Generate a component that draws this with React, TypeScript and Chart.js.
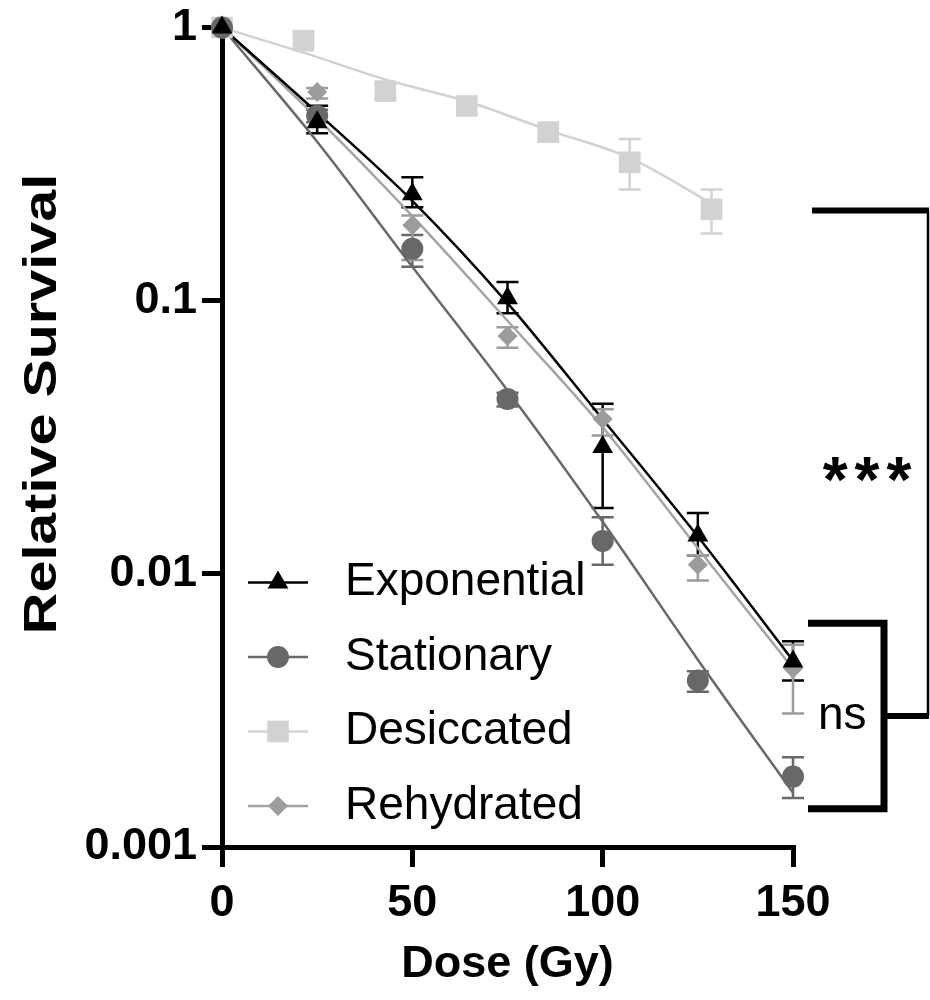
import React, { useEffect, useRef } from "react";
import { Chart, registerables } from "chart.js";

Chart.register(...registerables);

// ---------------- data ----------------
const doses = [0, 25, 50, 75, 100, 125, 150];
const desiccatedDoses = [0, 21.4, 42.9, 64.3, 85.7, 107.1, 128.6];

const exponentialMean = [1, 0.45, 0.245, 0.102, 0.0291, 0.0138, 0.00478];
const exponentialUpper = [1, 0.517, 0.283, 0.117, 0.0419, 0.0167, 0.00566];
const exponentialLower = [1, 0.41, 0.22, 0.09, 0.0174, 0.0117, 0.00407];
const exponentialFit = [1, 0.488, 0.232, 0.098, 0.0368, 0.0137, 0.00481];

const stationaryMean = [1, 0.475, 0.155, 0.0437, 0.0132, 0.00407, 0.00181];
const stationaryUpper = [1, 0.5, 0.174, 0.046, 0.0161, 0.0044, 0.00213];
const stationaryLower = [1, 0.45, 0.133, 0.041, 0.0108, 0.0037, 0.00151];
const stationaryFit = [1, 0.382, 0.133, 0.0469, 0.0155, 0.00485, 0.00158];

const desiccatedMean = [1, 0.895, 0.585, 0.516, 0.414, 0.321, 0.216];
const desiccatedUpper = [1, 0.93, 0.62, 0.55, 0.44, 0.391, 0.255];
const desiccatedLower = [1, 0.86, 0.55, 0.48, 0.39, 0.255, 0.176];
const desiccatedFit = [1, 0.809, 0.645, 0.537, 0.421, 0.333, 0.227];

const rehydratedMean = [1, 0.58, 0.189, 0.0742, 0.0369, 0.0108, 0.0045];
const rehydratedUpper = [1, 0.6, 0.205, 0.08, 0.04, 0.0117, 0.0055];
const rehydratedLower = [1, 0.55, 0.141, 0.0673, 0.0321, 0.00946, 0.00308];
const rehydratedFit = [1, 0.466, 0.204, 0.0844, 0.0344, 0.0124, 0.0045];

const xTicks = [0, 50, 100, 150];
const yTicks = [1, 0.1, 0.01, 0.001];
const yTickLabels = ["1", "0.1", "0.01", "0.001"];

// significance brackets (in data units of the y axis)
const nsBracket = [0.0066, 0.00138];
const sigBracketTop = 0.214;
const sigLabel = "***";
const nsLabel = "ns";

const xTitle = "Dose (Gy)";
const yTitle = "Relative Survival";

const FONT = '"Liberation Sans", Arial, Helvetica, sans-serif';

const pts = (xs: number[], ys: number[]) => xs.map((x, i) => ({ x, y: ys[i] }));

const series = [
  { label: "Exponential", color: "#000000", line: "#000000", style: "triangle", radius: 12, xs: doses, mean: exponentialMean, up: exponentialUpper, lo: exponentialLower, fit: exponentialFit },
  { label: "Stationary", color: "#686868", line: "#686868", style: "circle", radius: 11, xs: doses, mean: stationaryMean, up: stationaryUpper, lo: stationaryLower, fit: stationaryFit },
  { label: "Desiccated", color: "#d2d2d2", line: "#d2d2d2", style: "rect", radius: 15.3, xs: desiccatedDoses, mean: desiccatedMean, up: desiccatedUpper, lo: desiccatedLower, fit: desiccatedFit },
  { label: "Rehydrated", color: "#9c9c9c", line: "#a4a4a4", style: "rectRot", radius: 10, xs: doses, mean: rehydratedMean, up: rehydratedUpper, lo: rehydratedLower, fit: rehydratedFit },
];

function drawMarker(ctx: CanvasRenderingContext2D, style: string, r: number, x: number, y: number) {
  ctx.beginPath();
  if (style === "triangle") {
    ctx.moveTo(x, y - r);
    ctx.lineTo(x + Math.sin((2 * Math.PI) / 3) * r, y - Math.cos((2 * Math.PI) / 3) * r);
    ctx.lineTo(x + Math.sin((4 * Math.PI) / 3) * r, y - Math.cos((4 * Math.PI) / 3) * r);
  } else if (style === "circle") {
    ctx.arc(x, y, r, 0, Math.PI * 2);
  } else if (style === "rect") {
    const s = Math.SQRT1_2 * r;
    ctx.rect(x - s, y - s, 2 * s, 2 * s);
  } else {
    ctx.moveTo(x - r, y);
    ctx.lineTo(x, y - r);
    ctx.lineTo(x + r, y);
    ctx.lineTo(x, y + r);
  }
  ctx.closePath();
  ctx.fill();
}

const errorBarPlugin = {
  id: "errorBars",
  beforeDatasetsDraw(chart: any) {
    const { ctx } = chart;
    const x = chart.scales.x;
    const y = chart.scales.y;
    ctx.save();
    chart.data.datasets.forEach((ds: any) => {
      if (!ds.errUpper) return;
      ctx.strokeStyle = ds.borderColor;
      ctx.lineWidth = 2.5;
      ds.data.forEach((p: any, i: number) => {
        const px = x.getPixelForValue(p.x);
        const yu = y.getPixelForValue(ds.errUpper[i]);
        const yl = y.getPixelForValue(ds.errLower[i]);
        if (Math.abs(yu - yl) < 1) return;
        ctx.beginPath();
        ctx.moveTo(px, yu);
        ctx.lineTo(px, yl);
        ctx.moveTo(px - 11, yu);
        ctx.lineTo(px + 11, yu);
        ctx.moveTo(px - 11, yl);
        ctx.lineTo(px + 11, yl);
        ctx.stroke();
      });
    });
    ctx.restore();
  },
};

const decorPlugin = {
  id: "decor",
  afterDraw(chart: any) {
    const { ctx, chartArea } = chart;
    const y = chart.scales.y;
    ctx.save();

    // axis titles
    ctx.fillStyle = "#000";
    ctx.textAlign = "center";
    ctx.textBaseline = "middle";
    ctx.font = `bold 45px ${FONT}`;
    ctx.fillText(xTitle, (chartArea.left + chartArea.right) / 2, 965);
    ctx.save();
    ctx.translate(43, 404);
    ctx.rotate(-Math.PI / 2);
    ctx.scale(1.25, 1);
    ctx.font = `bold 46px ${FONT}`;
    ctx.fillText(yTitle, 0, 0);
    ctx.restore();

    // legend
    const markerSets = chart.data.datasets.filter((d: any) => d.isMarker);
    markerSets.forEach((ds: any, i: number) => {
      const cy = chartArea.bottom - 41 - (markerSets.length - 1 - i) * 74.5;
      const x0 = chartArea.left + 26;
      ctx.strokeStyle = ds.lineColor;
      ctx.lineWidth = 2.5;
      ctx.beginPath();
      ctx.moveTo(x0, cy);
      ctx.lineTo(x0 + 60, cy);
      ctx.stroke();
      ctx.fillStyle = ds.backgroundColor;
      drawMarker(ctx, ds.pointStyle, ds.pointRadius, x0 + 30, cy);
      ctx.fillStyle = "#000";
      ctx.textAlign = "left";
      ctx.textBaseline = "middle";
      ctx.font = `46px ${FONT}`;
      ctx.fillText(ds.label, chartArea.left + 123, cy);
    });

    // brackets
    const r = chartArea.right;
    const yt = y.getPixelForValue(nsBracket[0]);
    const yb = y.getPixelForValue(nsBracket[1]);
    const ym = (yt + yb) / 2;
    const ys = y.getPixelForValue(sigBracketTop);
    ctx.strokeStyle = "#000";
    ctx.lineCap = "butt";
    ctx.lineJoin = "miter";
    ctx.lineWidth = 7;
    ctx.beginPath();
    ctx.moveTo(r + 15, yt);
    ctx.lineTo(r + 91, yt);
    ctx.lineTo(r + 91, yb);
    ctx.lineTo(r + 15, yb);
    ctx.stroke();
    ctx.lineWidth = 6;
    ctx.beginPath();
    ctx.moveTo(r + 91, ym);
    ctx.lineTo(r + 136, ym);
    ctx.moveTo(r + 19, ys);
    ctx.lineTo(r + 136, ys);
    ctx.stroke();
    ctx.lineWidth = 2.5;
    ctx.beginPath();
    ctx.moveTo(r + 135, ys);
    ctx.lineTo(r + 135, ym);
    ctx.stroke();

    ctx.fillStyle = "#000";
    ctx.textAlign = "left";
    ctx.textBaseline = "alphabetic";
    ctx.font = `bold 64px ${FONT}`;
    const starW = ctx.measureText("*").width;
    const gap = 7;
    const total = starW * 3 + gap * 2;
    let sx = r + 74 - total / 2;
    for (let k = 0; k < sigLabel.length; k++) {
      ctx.fillText(sigLabel[k], sx, 502);
      sx += starW + gap;
    }
    ctx.textAlign = "left";
    ctx.textBaseline = "middle";
    ctx.font = `46px ${FONT}`;
    ctx.fillText(nsLabel, r + 25, ym);

    ctx.restore();
  },
};

export default function App() {
  const ref = useRef<HTMLCanvasElement | null>(null);

  useEffect(() => {
    if (!ref.current) return;
    const datasets: any[] = [];
    series.forEach((s, i) => {
      datasets.push({
        type: "line",
        label: s.label,
        isMarker: true,
        lineColor: s.line,
        data: pts(s.xs, s.mean),
        showLine: false,
        pointStyle: s.style,
        pointRadius: s.radius,
        pointHoverRadius: s.radius,
        pointBackgroundColor: s.color,
        pointBorderColor: s.color,
        pointBorderWidth: 0,
        backgroundColor: s.color,
        borderColor: s.color,
        errUpper: s.up,
        errLower: s.lo,
        order: i,
        clip: false,
      });
    });
    series.forEach((s, i) => {
      datasets.push({
        type: "line",
        label: s.label + " fit",
        data: pts(s.xs, s.fit),
        showLine: true,
        borderColor: s.line,
        borderWidth: 2.5,
        pointRadius: 0,
        cubicInterpolationMode: "monotone",
        fill: false,
        order: 10 + i,
        clip: false,
      });
    });

    const chart = new Chart(ref.current, {
      type: "line",
      data: { datasets },
      options: {
        animation: false,
        responsive: false,
        events: [],
        layout: { padding: { top: 23, right: 137, left: 0, bottom: 0 } },
        plugins: { legend: { display: false }, tooltip: { enabled: false } },
        scales: {
          x: {
            type: "linear",
            min: 0,
            max: 150,
            afterBuildTicks: (scale: any) => {
              scale.ticks = xTicks.map((v) => ({ value: v }));
            },
            afterFit: (scale: any) => {
              scale.height = 153;
            },
            border: { display: true, color: "#000", width: 5 },
            grid: { display: true, drawOnChartArea: false, drawTicks: true, tickLength: 20, tickWidth: 5, tickColor: "#000", color: "#000", lineWidth: 5 },
            ticks: { color: "#000", padding: 14, font: { family: FONT, size: 45, weight: "bold", lineHeight: 1 }, maxRotation: 0 },
          },
          y: {
            type: "logarithmic",
            min: 0.001,
            max: 1,
            afterBuildTicks: (scale: any) => {
              scale.ticks = yTicks.map((v) => ({ value: v }));
            },
            afterFit: (scale: any) => {
              scale.width = 222;
            },
            border: { display: true, color: "#000", width: 5 },
            grid: { display: true, drawOnChartArea: false, drawTicks: true, tickLength: 20, tickWidth: 5, tickColor: "#000", color: "#000", lineWidth: 5 },
            ticks: {
              color: "#000",
              padding: 5,
              font: { family: FONT, size: 45, weight: "bold", lineHeight: 1 },
              callback: (v: any) => {
                const idx = yTicks.findIndex((t) => Math.abs(t - v) / t < 1e-6);
                return idx >= 0 ? yTickLabels[idx] : "";
              },
            },
          },
        },
      } as any,
      plugins: [errorBarPlugin, decorPlugin],
    });
    return () => chart.destroy();
  }, []);

  return (
    <div style={{ position: "absolute", left: 0, top: 0, width: 930, height: 1000, background: "#fff" }}>
      <canvas ref={ref} width={930} height={1000} style={{ display: "block" }} />
    </div>
  );
}
